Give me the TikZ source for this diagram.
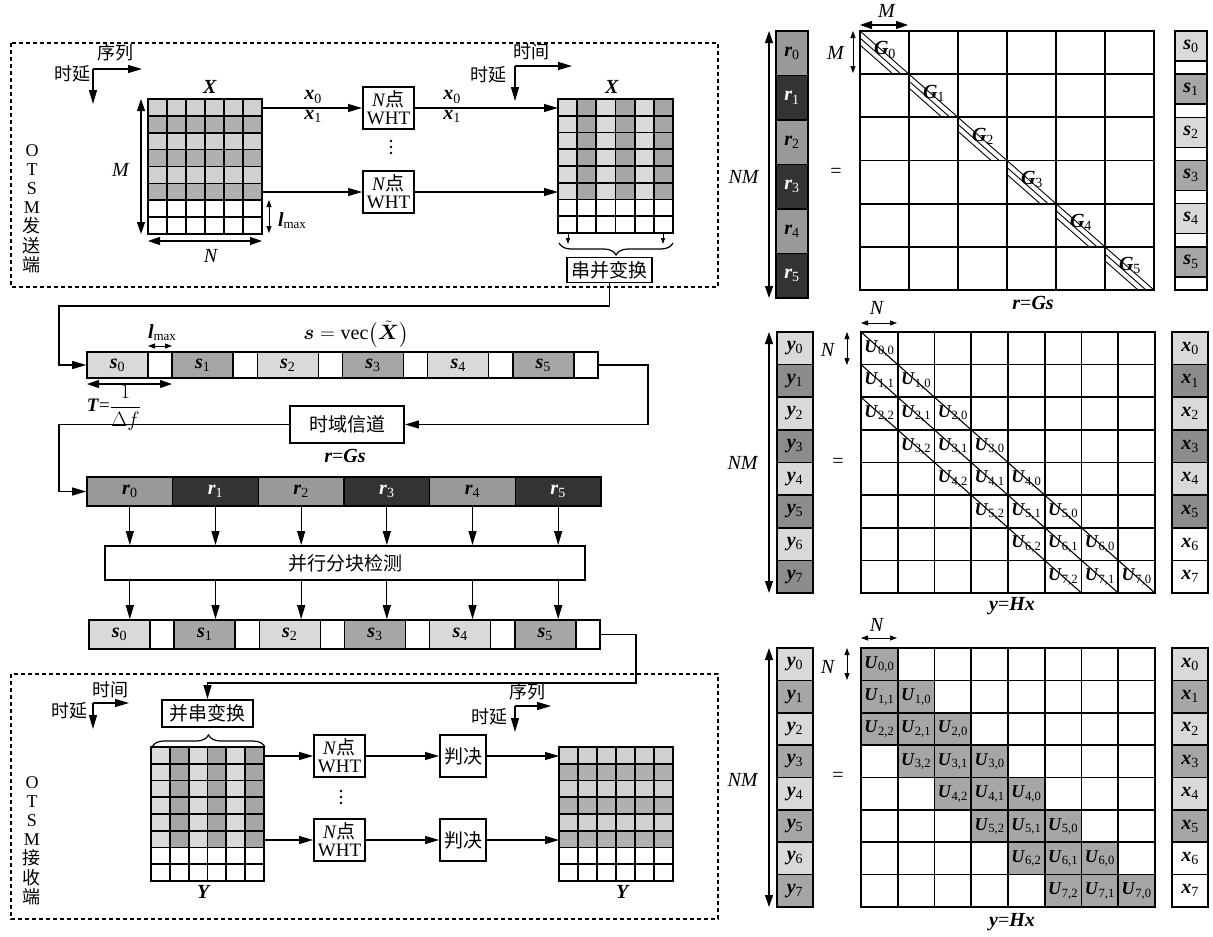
\documentclass[tikz,border=0pt]{standalone}
\usepackage{amsmath}
\usepackage{graphicx}
\usepackage{fontspec}
\setmainfont{Liberation Serif}
\newfontfamily\cjk{Noto Sans CJK SC}
\usetikzlibrary{arrows.meta,decorations.pathreplacing,calc}
\newcommand{\bv}[1]{\textbf{\textit{#1}}}
\newcommand{\sbs}[1]{\textsubscript{#1}}
\definecolor{lg}{HTML}{D9D9D9}
\definecolor{mg}{HTML}{A6A6A6}
\definecolor{xl}{HTML}{D0D0D0}
\definecolor{xm}{HTML}{B0B0B0}
\definecolor{rg}{HTML}{999999}
\definecolor{rd}{HTML}{333333}
\definecolor{ym}{HTML}{8C8C8C}
\newcommand{\mgrid}[6]{%
  \foreach \ii in {0,...,#3} {\draw[gl] ({#1+\ii*#5},#2) -- ({#1+\ii*#5},{#2+#4*#6});}%
  \foreach \jj in {0,...,#4} {\draw[gl] (#1,{#2+\jj*#6}) -- ({#1+#3*#5},{#2+\jj*#6});}%
}
\begin{document}
\begin{tikzpicture}[x=1pt,y=-1pt,
  font=\fontsize{20}{22}\selectfont,
  every node/.style={inner sep=0pt},
  ln/.style={line width=1.1pt},
  arr/.style={line width=1.1pt,-{Triangle[length=14pt,width=8pt]}},
  sarr/.style={line width=0.8pt,-{Triangle[length=6pt,width=4pt]}},
  darr/.style={line width=1.1pt,{Triangle[length=12pt,width=8pt]}-{Triangle[length=12pt,width=8pt]}},
  sdarr/.style={line width=0.8pt,{Triangle[length=7pt,width=5pt]}-{Triangle[length=7pt,width=5pt]}},
  gl/.style={line width=1.7pt,line cap=rect},
  bx/.style={draw,line width=1.9pt,fill=white,align=center},
  dbox/.style={line width=1.9pt,dash pattern=on 4pt off 3pt},
  cell/.style={draw,line width=1.6pt,minimum width=#1},
  cn/.style={font=\fontsize{18}{20}\selectfont\cjk},
  cnb/.style={font=\fontsize{19}{21}\selectfont\cjk},
  wht/.style={bx,font=\fontsize{19}{18}\selectfont,minimum width=51pt,minimum height=42pt},
  ulab/.style={font=\fontsize{18}{20}\selectfont},
  vtext/.style={align=center,font=\fontsize{18}{19.2}\selectfont,anchor=north},
  dot/.style={circle,fill,minimum size=2.6pt},
]
\useasboundingbox (0,0) rectangle (1213,937);

%================ transmitter (top) =================
\draw[dbox] (11,43) rectangle (718,287);
\node[vtext] (otsmT) at (32,144) {O\\T\\S\\M\\{\cjk 发}\\{\cjk 送}\\{\cjk 端}};

% axes 1
\coordinate (a1) at (93,69); \coordinate (a1x) at (142,69); \coordinate (a1y) at (93,104);
\draw[arr] (a1) -- (a1x); \draw[arr] (a1) -- (a1y);
\node[cn] (a1t) at (115,53) {序列};
\node[cn] (a1s) at (72,74) {时延};

% matrix X (rows shaded)
\foreach \r in {0,2,4} {\fill[xl] (148,{99+16.875*\r}) rectangle ++(114,16.875);}
\foreach \r in {1,3,5} {\fill[xm] (148,{99+16.875*\r}) rectangle ++(114,16.875);}
\mgrid{148}{99}{6}{8}{19}{16.875}
\node (X1lab) at (210,87) {\bv{X}};
\coordinate (mT) at (141,99); \coordinate (mB) at (141,234);
\draw[darr] (mT) -- (mB);
\node (Mlab) at (121,170) {\textit{M}};
\coordinate (nL) at (148,241); \coordinate (nR) at (262,241);
\draw[darr] (nL) -- (nR);
\node (Nlab) at (211,256) {\textit{N}};
\coordinate (lT) at (269,200); \coordinate (lB) at (269,233);
\draw[sdarr] (lT) -- (lB);
\node (lmaxlab) at (292,221) {\bv{l}{\fontsize{13}{13}\selectfont\raisebox{-0.35ex}{max}}};
\coordinate (X1r0) at (262,108); \coordinate (X1r5) at (262,192);

% WHT boxes
\node[wht] (w1) at (388.5,108) {\textit{N}{\cjk 点}\\WHT};
\node[wht] (w2) at (388.5,192) {\textit{N}{\cjk 点}\\WHT};
\node[dot] (d1a) at (391,141) {}; \node[dot] (d1b) at (391,147) {}; \node[dot] (d1c) at (391,153) {};
\draw[arr] (X1r0) -- (X1r0 -| w1.west);
\draw[arr] (X1r5) -- (X1r5 -| w2.west);
\node (x0a) at (313,97) {\bv{x}\sbs{0}};
\node (x1a) at (313,116) {\bv{x}\sbs{1}};

% matrix X tilde (columns shaded)
\coordinate (X2r0) at (558,108); \coordinate (X2r5) at (558,192);
\draw[arr] (w1.east) -- (X2r0);
\draw[arr] (w2.east) -- (X2r5);
\node (x0b) at (452,97) {\bv{x}\sbs{0}};
\node (x1b) at (452,116) {\bv{x}\sbs{1}};
\foreach \c in {0,2,4} {\fill[lg] ({558+19.17*\c},99) rectangle ++(19.17,100.5);}
\foreach \c in {1,3,5} {\fill[mg] ({558+19.17*\c},99) rectangle ++(19.17,100.5);}
\mgrid{558}{99}{6}{8}{19.17}{16.75}
\node (X2lab) at (612,87) {\bv{X}};
% axes 2
\coordinate (a2) at (515,66); \coordinate (a2x) at (572,66); \coordinate (a2y) at (515,101);
\draw[arr] (a2) -- (a2x); \draw[arr] (a2) -- (a2y);
\node[cn] (a2t) at (531,52) {时间};
\node[cn] (a2s) at (488,75) {时延};
% small arrows + brace
\coordinate (sa1) at (568,234); \coordinate (sa1e) at (568,244);
\coordinate (sa2) at (663,234); \coordinate (sa2e) at (663,244);
\draw[sarr] (sa1) -- (sa1e); \draw[sarr] (sa2) -- (sa2e);
\coordinate (brR) at (673,243); \coordinate (brL) at (559,243);
\draw[decorate,decoration={brace,amplitude=12pt},line width=1.2pt] (brR) -- (brL);
\node[bx,cnb,minimum width=85pt,minimum height=25pt] (sp) at (609.5,270) {串并变换};

%================ middle chain =================
\coordinate (c1) at (609.5,306); \coordinate (c2) at (59,306);
% s-bar 1
\foreach \k in {0,...,5} {
  \ifodd\k\relax\def\fc{mg}\else\def\fc{lg}\fi
  \pgfmathsetmacro\xs{87+85.17*\k}
  \node[cell=61pt,minimum height=26pt,fill=\fc] (sa\k) at ({\xs+30.5},365) {\bv{s}\sbs{\k}};
  \node[cell=24.17pt,minimum height=26pt,fill=white] (ga\k) at ({\xs+73.08},365) {};
}
\draw[arr] (sp.south) -- (c1) -- (c2) |- (sa0.west);
\coordinate (lmL) at (148,346); \coordinate (lmR) at (172,346);
\draw[sdarr] (lmL) -- (lmR);
\node (lmax2) at (162,333) {\bv{l}{\fontsize{13}{13}\selectfont\raisebox{-0.35ex}{max}}};
\node (svec) at (356,334) {$\boldsymbol{s}=\mathrm{vec}\bigl(\tilde{\boldsymbol{X}}\bigr)$};
\coordinate (tL) at (87,384); \coordinate (tR) at (172,384);
\draw[darr] (tL) -- (tR);
\node[font=\fontsize{19}{20}\selectfont] (Tlab) at (114,408) {\bv{T}=\raisebox{-0.1ex}{\scalebox{1.2}{$\dfrac{1}{\Delta f}$}}};

% channel
\node[bx,cnb,minimum width=114pt,minimum height=37pt] (ch) at (347,424.5) {时域信道};
\node (rGs1) at (345,456) {\bv{r}=\bv{Gs}};
\coordinate (c3) at (648,365);
\draw[arr] (ga5.east) -- (c3) |- (ch.east);
\coordinate (c4) at (59,424.5);

% r-bar
\foreach \k in {0,...,5} {
  \ifodd\k\relax\def\fc{rd}\def\tc{white}\else\def\fc{rg}\def\tc{black}\fi
  \node[cell=85.67pt,minimum height=29pt,fill=\fc,text=\tc] (r\k) at ({87+85.67*\k+42.83},491.5) {\bv{r}\sbs{\k}};
}
\draw[arr] (ch.west) -- (c4) |- (r0.west);

% parallel detection
\node[bx,cnb,minimum width=480pt,minimum height=34pt] (pd) at (345,563) {并行分块检测};
% s-bar 2
\foreach \k in {0,...,5} {
  \ifodd\k\relax\def\fc{mg}\else\def\fc{lg}\fi
  \pgfmathsetmacro\xs{89+85.17*\k}
  \node[cell=61pt,minimum height=29pt,fill=\fc] (sb\k) at ({\xs+30.5},634.5) {\bv{s}\sbs{\k}};
  \node[cell=24.17pt,minimum height=29pt,fill=white] (gb\k) at ({\xs+73.08},634.5) {};
}
\foreach \k in {0,...,5} {
  \draw[arr] (r\k.south) -- (r\k.south |- pd.north);
  \draw[arr] (r\k.south |- pd.south) -- (r\k.south |- sb0.north);
}

%================ receiver (bottom) =================
\draw[dbox] (11,674) rectangle (718,919);
\node[vtext] (otsmR) at (32,776) {O\\T\\S\\M\\{\cjk 接}\\{\cjk 收}\\{\cjk 端}};
\node[bx,cnb,minimum width=91pt,minimum height=27pt] (ps) at (207.5,713.5) {并串变换};
\coordinate (c5) at (636,634.5); \coordinate (c6) at (636,683);
\draw[arr] (gb5.east) -- (c5) -- (c6) -| (ps.north);
% axes 3
\coordinate (a3) at (93,703); \coordinate (a3x) at (129,703); \coordinate (a3y) at (93,729);
\draw[arr] (a3) -- (a3x); \draw[arr] (a3) -- (a3y);
\node[cn] (a3t) at (110,690) {时间};
\node[cn] (a3s) at (69,711) {时延};
% brace
\coordinate (br2L) at (152,747); \coordinate (br2R) at (265,747);
\draw[decorate,decoration={brace,amplitude=12pt},line width=1.2pt] (br2L) -- (br2R);
% matrix Y (columns)
\foreach \c in {0,2,4} {\fill[lg] ({151+18.83*\c},747) rectangle ++(18.83,100.5);}
\foreach \c in {1,3,5} {\fill[mg] ({151+18.83*\c},747) rectangle ++(18.83,100.5);}
\mgrid{151}{747}{6}{8}{18.83}{16.75}
\node (Y1lab) at (204,892) {\bv{Y}};
\coordinate (Y1r0) at (264,756); \coordinate (Y1r5) at (264,840);
\node[wht] (w3) at (339.5,756) {\textit{N}{\cjk 点}\\WHT};
\node[wht] (w4) at (339.5,840) {\textit{N}{\cjk 点}\\WHT};
\node[dot] (d2a) at (341,791) {}; \node[dot] (d2b) at (341,797) {}; \node[dot] (d2c) at (341,803) {};
\node[bx,cnb,minimum width=46pt,minimum height=42pt] (pj1) at (463,756) {判决};
\node[bx,cnb,minimum width=46pt,minimum height=42pt] (pj2) at (463,840) {判决};
\draw[arr] (Y1r0) -- (Y1r0 -| w3.west);
\draw[arr] (Y1r5) -- (Y1r5 -| w4.west);
\draw[arr] (w3.east) -- (pj1.west);
\draw[arr] (w4.east) -- (pj2.west);
\coordinate (Y2r0) at (559,756); \coordinate (Y2r5) at (559,840);
\draw[arr] (pj1.east) -- (Y2r0);
\draw[arr] (pj2.east) -- (Y2r5);
% axes 4
\coordinate (a4) at (515,706); \coordinate (a4x) at (551,706); \coordinate (a4y) at (515,732);
\draw[arr] (a4) -- (a4x); \draw[arr] (a4) -- (a4y);
\node[cn] (a4t) at (527,692) {序列};
\node[cn] (a4s) at (489,717) {时延};
% matrix Y hat (rows)
\foreach \r in {0,2,4} {\fill[xl] (559,{747+16.75*\r}) rectangle ++(114,16.75);}
\foreach \r in {1,3,5} {\fill[xm] (559,{747+16.75*\r}) rectangle ++(114,16.75);}
\mgrid{559}{747}{6}{8}{19}{16.75}
\node (Y2lab) at (623,892) {\bv{Y}};

%================ right: r = G s =================
\foreach \k in {0,...,5} {
  \ifodd\k\relax\def\fc{rd}\def\tc{white}\else\def\fc{rg}\def\tc{black}\fi
  \node[cell=32pt,minimum height=44.5pt,fill=\fc,text=\tc] (rc\k) at (792,{31+44.5*\k+22.25}) {\bv{r}\sbs{\k}};
}
\coordinate (nmT1) at (769,31); \coordinate (nmB1) at (769,298);
\draw[darr] (nmT1) -- (nmB1);
\node (NM1) at (744,177) {\textit{NM}};
\node (eq1) at (836,173) {=};
\mgrid{860}{31}{6}{6}{49}{43.17}
\foreach \k in {0,...,5} {
  \pgfmathsetmacro\xa{860+49*\k}
  \pgfmathsetmacro\ya{31+43.17*\k}
  \draw[line width=0.9pt] (\xa,\ya) -- ({\xa+49},{\ya+43.17});
  \draw[line width=0.9pt] (\xa,{\ya+7}) -- ({\xa+49-7.95},{\ya+43.17});
  \draw[line width=0.9pt] (\xa,{\ya+14}) -- ({\xa+49-15.9},{\ya+43.17});
  \node (G\k) at ({\xa+25},{\ya+19}) {\bv{G}\sbs{\k}};
}
\coordinate (mL1) at (860,25); \coordinate (mR1) at (908,25);
\draw[darr] (mL1) -- (mR1);
\node (Mt1) at (887,11) {\textit{M}};
\coordinate (mT1) at (853,31); \coordinate (mB1) at (853,73);
\draw[sdarr] (mT1) -- (mB1);
\node (Ml1) at (836,53) {\textit{M}};
\foreach \k in {0,...,5} {
  \ifodd\k\relax\def\fc{mg}\else\def\fc{lg}\fi
  \node[cell=32pt,minimum height=30pt,fill=\fc] (sc\k) at (1191,{31+43.17*\k+15}) {\bv{s}\sbs{\k}};
  \node[cell=32pt,minimum height=13.17pt,fill=white] (scg\k) at (1191,{31+43.17*\k+36.58}) {};
}
\node (rGs2) at (1033,303) {\bv{r}=\bv{Gs}};

%================ right: y = H x (lines) =================
\foreach \k in {0,...,7} {
  \ifodd\k\relax\def\fc{ym}\else\def\fc{lg}\fi
  \node[cell=36pt,minimum height=32.625pt,fill=\fc] (ym\k) at (795,{332+32.625*\k+16.31}) {\bv{y}\sbs{\k}};
}
\foreach \k in {0,...,7} {
  \ifnum\k>5 \def\fc{white}\else\ifodd\k\relax\def\fc{ym}\else\def\fc{lg}\fi\fi
  \node[cell=36pt,minimum height=32.625pt,fill=\fc] (xm\k) at (1190,{332+32.625*\k+16.31}) {\bv{x}\sbs{\k}};
}
\coordinate (nmT2) at (769,332); \coordinate (nmB2) at (769,593);
\draw[darr] (nmT2) -- (nmB2);
\node (NM2) at (743,463) {\textit{NM}};
\node (eq2) at (838,463) {=};
\mgrid{861}{332}{8}{8}{36.75}{32.625}
\coordinate (dg1a) at (861,332); \coordinate (dg1b) at (1155,593);
\coordinate (dg2a) at (861,364.625); \coordinate (dg2b) at (1118.25,593);
\coordinate (dg3a) at (861,397.25); \coordinate (dg3b) at (1081.5,593);
\draw[line width=1.1pt] (dg1a) -- (dg1b);
\draw[line width=1.1pt] (dg2a) -- (dg2b);
\draw[line width=1.1pt] (dg3a) -- (dg3b);
\foreach \i/\j in {0/0,1/1,1/0,2/2,2/1,2/0,3/2,3/1,3/0,4/2,4/1,4/0,5/2,5/1,5/0,6/2,6/1,6/0,7/2,7/1,7/0} {
  \pgfmathtruncatemacro\cc{\i-\j}
  \node[ulab] (um\i\j) at ({861+36.75*\cc+18.4},{332+32.625*\i+16.5}) {\bv{U}\sbs{\i,\j}};
}
\coordinate (nL2) at (861,323); \coordinate (nR2) at (897,323);
\draw[sdarr] (nL2) -- (nR2);
\node (Nt2) at (877,308) {\textit{N}};
\coordinate (nT2) at (847,332); \coordinate (nB2) at (847,365);
\draw[sdarr] (nT2) -- (nB2);
\node (Nl2) at (828,350) {\textit{N}};
\node (yHx1) at (1012,606) {\bv{y}=\bv{Hx}};

%================ right: y = H x (shaded) =================
\foreach \k in {0,...,7} {
  \ifodd\k\relax\def\fc{mg}\else\def\fc{lg}\fi
  \node[cell=36pt,minimum height=32.375pt,fill=\fc] (yb\k) at (795,{648+32.375*\k+16.19}) {\bv{y}\sbs{\k}};
}
\foreach \k in {0,...,7} {
  \ifnum\k>5 \def\fc{white}\else\ifodd\k\relax\def\fc{mg}\else\def\fc{lg}\fi\fi
  \node[cell=36pt,minimum height=32.375pt,fill=\fc] (xb\k) at (1190,{648+32.375*\k+16.19}) {\bv{x}\sbs{\k}};
}
\coordinate (nmT3) at (769,648); \coordinate (nmB3) at (769,907);
\draw[darr] (nmT3) -- (nmB3);
\node (NM3) at (743,780) {\textit{NM}};
\node (eq3) at (838,777) {=};
\foreach \i/\j in {0/0,1/1,1/0,2/2,2/1,2/0,3/2,3/1,3/0,4/2,4/1,4/0,5/2,5/1,5/0,6/2,6/1,6/0,7/2,7/1,7/0} {
  \pgfmathtruncatemacro\cc{\i-\j}
  \fill[mg] ({861+36.75*\cc},{648+32.375*\i}) rectangle ++(36.75,32.375);
}
\mgrid{861}{648}{8}{8}{36.75}{32.375}
\foreach \i/\j in {0/0,1/1,1/0,2/2,2/1,2/0,3/2,3/1,3/0,4/2,4/1,4/0,5/2,5/1,5/0,6/2,6/1,6/0,7/2,7/1,7/0} {
  \pgfmathtruncatemacro\cc{\i-\j}
  \node[ulab] (ub\i\j) at ({861+36.75*\cc+18.4},{648+32.375*\i+16.5}) {\bv{U}\sbs{\i,\j}};
}
\coordinate (nL3) at (861,638); \coordinate (nR3) at (897,638);
\draw[sdarr] (nL3) -- (nR3);
\node (Nt3) at (877,625) {\textit{N}};
\coordinate (nT3) at (847,648); \coordinate (nB3) at (847,680);
\draw[sdarr] (nT3) -- (nB3);
\node (Nl3) at (828,667) {\textit{N}};
\node (yHx2) at (1012,922) {\bv{y}=\bv{Hx}};
\end{tikzpicture}
\end{document}
